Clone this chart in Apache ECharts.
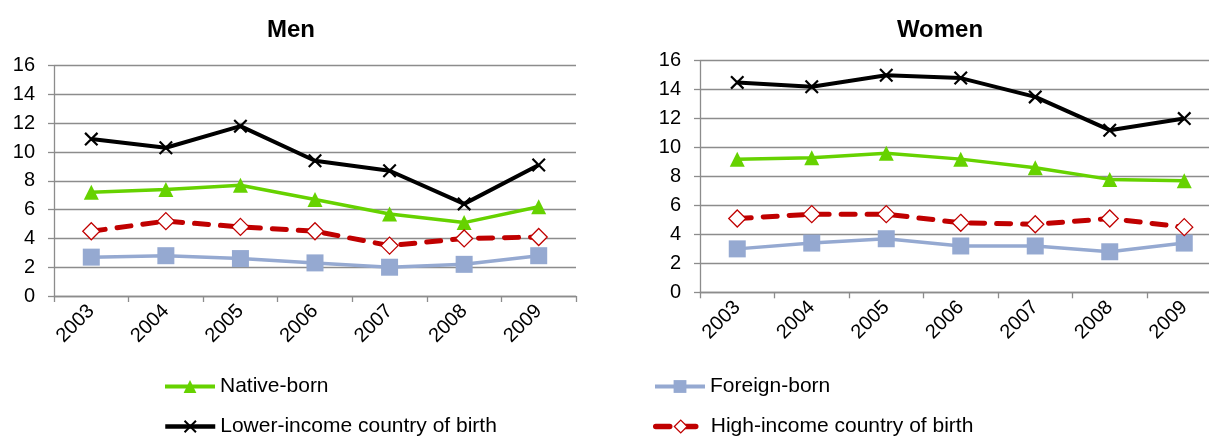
<!DOCTYPE html>
<html>
<head>
<meta charset="utf-8">
<script src="https://cdn.jsdelivr.net/npm/echarts@6/dist/echarts.min.js"></script>
<style>
html,body{margin:0;padding:0;background:#fff;}
#c{width:1209px;height:436px;}
</style>
</head>
<body>
<div id="c"></div>
<script>
// ---- data ----
const years = ['2003', '2004', '2005', '2006', '2007', '2008', '2009'];
const yTicks = [0, 2, 4, 6, 8, 10, 12, 14, 16];
const seriesNames = ['Native-born', 'Foreign-born', 'Lower-income country of birth', 'High-income country of birth'];
const panelTitles = ['Men', 'Women'];

const menNative = [7.2, 7.4, 7.7, 6.7, 5.7, 5.1, 6.2];
const menForeign = [2.7, 2.8, 2.6, 2.3, 2.0, 2.2, 2.8];
const menLower = [10.9, 10.3, 11.8, 9.4, 8.7, 6.4, 9.1];
const menHigh = [4.5, 5.2, 4.8, 4.5, 3.5, 4.0, 4.1];

const womenNative = [9.2, 9.3, 9.6, 9.2, 8.6, 7.8, 7.7];
const womenForeign = [3.0, 3.4, 3.7, 3.2, 3.2, 2.8, 3.4];
const womenLower = [14.5, 14.2, 15.0, 14.8, 13.5, 11.2, 12.0];
const womenHigh = [5.1, 5.4, 5.4, 4.8, 4.7, 5.1, 4.5];

// ---- styles ----
const FONT = '"Liberation Sans", Arial, sans-serif';
const GRID_GRAY = '#8c8c8c';
const X_PATH = 'path://M0,1.1 L1.1,0 L10,8.9 L8.9,10 Z M8.9,0 L10,1.1 L1.1,10 L0,8.9 Z';

const styles = {
  'Native-born': {
    symbol: 'triangle', symbolSize: 15,
    lineStyle: { color: '#66D200', width: 3.5 },
    itemStyle: { color: '#66D200' }
  },
  'Foreign-born': {
    symbol: 'rect', symbolSize: 17,
    lineStyle: { color: '#95A9D1', width: 3.5 },
    itemStyle: { color: '#95A9D1' }
  },
  'Lower-income country of birth': {
    symbol: X_PATH, symbolSize: 14,
    lineStyle: { color: '#000000', width: 4 },
    itemStyle: { color: '#000000' }
  },
  'High-income country of birth': {
    symbol: 'diamond', symbolSize: 17,
    lineStyle: { color: '#C00000', width: 5, type: [14, 12], cap: 'round' },
    itemStyle: { color: '#ffffff', borderColor: '#C00000', borderWidth: 1.3 }
  }
};

const panelData = [
  [menNative, menForeign, menLower, menHigh],
  [womenNative, womenForeign, womenLower, womenHigh]
];

const grids = [
  { left: 54, top: 65.7, width: 522, height: 230.3, outerBoundsMode: 'none', containLabel: false },
  { left: 700, top: 60.7, width: 521.5, height: 231.6, outerBoundsMode: 'none', containLabel: false }
];

const xAxes = grids.map((g, i) => ({
  type: 'category', gridIndex: i, data: years, boundaryGap: true,
  axisLine: { lineStyle: { color: GRID_GRAY, width: 1.3 } },
  axisTick: { show: true, length: 6, lineStyle: { color: GRID_GRAY, width: 1.3 } },
  axisLabel: { rotate: 45, fontFamily: FONT, fontSize: 20, color: '#000', margin: 12 },
  splitLine: { show: false }
}));

const yAxes = grids.map((g, i) => ({
  type: 'value', gridIndex: i, min: yTicks[0], max: yTicks[yTicks.length - 1], interval: 2,
  axisLine: { show: true, lineStyle: { color: GRID_GRAY, width: 1.3 } },
  axisTick: { show: true, length: 6, lineStyle: { color: GRID_GRAY, width: 1.3 } },
  axisLabel: { fontFamily: FONT, fontSize: 20, color: '#000', margin: 19 },
  splitLine: { show: true, lineStyle: { color: GRID_GRAY, width: 1.3 } }
}));

const series = [];
panelData.forEach((arrs, gi) => {
  arrs.forEach((arr, si) => {
    const name = seriesNames[si];
    const st = styles[name];
    series.push({
      type: 'line', name: name, xAxisIndex: gi, yAxisIndex: gi, data: arr,
      symbol: st.symbol, symbolSize: st.symbolSize, showSymbol: true, showAllSymbol: true,
      lineStyle: st.lineStyle, itemStyle: st.itemStyle,
      animation: false, z: 2 + si
    });
  });
});

const legendBase = {
  itemWidth: 50, itemHeight: 16, itemGap: 0, orient: 'horizontal',
  textStyle: { fontFamily: FONT, fontSize: 21, color: '#000' },
  selectedMode: false, padding: 0
};
function legendItem(name) {
  const st = styles[name];
  return {
    name: name,
    lineStyle: Object.assign({}, st.lineStyle, { width: st.lineStyle.width + 0.5 }),
    itemStyle: st.itemStyle
  };
}
const legends = [
  Object.assign({}, legendBase, { data: [legendItem(seriesNames[0])], left: 163, top: 376 }),
  Object.assign({}, legendBase, { data: [legendItem(seriesNames[1])], left: 653, top: 376 }),
  Object.assign({}, legendBase, { data: [legendItem(seriesNames[2])], left: 163, top: 416 }),
  Object.assign({}, legendBase, { data: [legendItem(seriesNames[3])], left: 653, top: 416 })
];

const titleCenters = [291, 940];
const graphic = panelTitles.map((t, i) => ({
  type: 'text', x: titleCenters[i], y: 30,
  style: {
    text: t, font: 'bold 24px ' + FONT, fill: '#000',
    textAlign: 'center', align: 'center', textVerticalAlign: 'middle', verticalAlign: 'middle'
  }
}));

const chart = echarts.init(document.getElementById('c'), null, { renderer: 'canvas' });
chart.setOption({
  animation: false,
  backgroundColor: '#ffffff',
  grid: grids,
  xAxis: xAxes,
  yAxis: yAxes,
  series: series,
  legend: legends,
  graphic: graphic
});
</script>
</body>
</html>
